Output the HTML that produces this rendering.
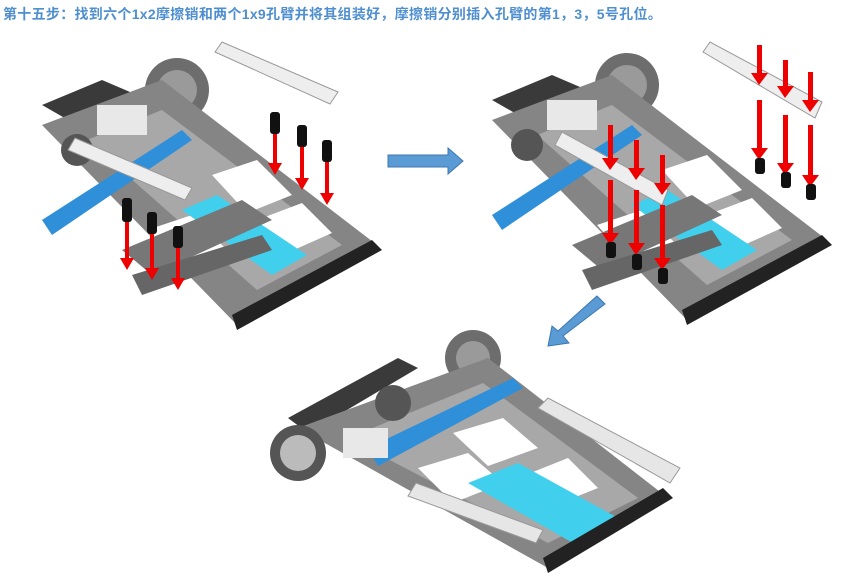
<!DOCTYPE html>
<html><head><meta charset="utf-8"><style>
html,body{margin:0;padding:0;background:#fff;width:864px;height:579px;overflow:hidden}
.t{position:absolute;left:3px;top:4px;font:bold 14px "Liberation Sans","Noto Sans CJK SC",sans-serif;color:#4f8fd0;white-space:nowrap;letter-spacing:0.3px}
svg{position:absolute;left:0;top:0}
</style></head><body>
<div class="t">第十五步：找到六个1x2摩擦销和两个1x9孔臂并将其组装好，摩擦销分别插入孔臂的第1，3，5号孔位。</div>
<svg width="864" height="579" viewBox="0 0 864 579">
<defs>
<g id="model">
  <circle cx="135" cy="55" r="32" fill="#6d6d6d"/>
  <circle cx="135" cy="55" r="20" fill="#9a9a9a"/>
  <polygon points="0,70 60,45 95,60 35,90" fill="#3a3a3a"/>
  <polygon points="0,90 120,45 335,210 195,290" fill="#858585"/>
  <polygon points="45,105 120,75 300,210 215,255" fill="#a8a8a8"/>
  <polygon points="170,140 215,125 250,160 205,178" fill="#fff"/>
  <polygon points="215,185 260,168 290,198 245,218" fill="#fff"/>
  <polygon points="105,195 150,180 185,215 140,235" fill="#fff"/>
  <polygon points="0,185 140,95 150,105 10,200" fill="#2f8fd8"/>
  <polygon points="140,175 175,160 265,220 230,240" fill="#40d0ee"/>
  <circle cx="35" cy="115" r="16" fill="#555"/>
  <rect x="55" y="70" width="50" height="30" fill="#e8e8e8"/>
  <polygon points="80,215 200,165 230,185 110,240" fill="#777"/>
  <polygon points="90,240 220,200 230,215 100,260" fill="#666"/>
  <polygon points="190,280 330,205 340,215 195,295" fill="#222"/>
</g>
</defs>

<!-- top-left model -->
<use href="#model" x="42" y="35"/>
<polygon points="215,52 222,42 338,92 330,104" fill="#eee" stroke="#999"/>
<polygon points="68,150 75,138 192,188 185,200" fill="#eee" stroke="#999"/>
<g fill="#e00">
 <rect x="273" y="130" width="4" height="35"/><polygon points="268,163 282,163 275,175"/>
 <rect x="300" y="140" width="4" height="40"/><polygon points="295,178 309,178 302,190"/>
 <rect x="325" y="155" width="4" height="40"/><polygon points="320,193 334,193 327,205"/>
 <rect x="125" y="220" width="4" height="40"/><polygon points="120,258 134,258 127,270"/>
 <rect x="150" y="225" width="4" height="45"/><polygon points="145,268 159,268 152,280"/>
 <rect x="176" y="240" width="4" height="40"/><polygon points="171,278 185,278 178,290"/>
</g>
<g fill="#111">
 <rect x="270" y="112" width="10" height="22" rx="3"/><rect x="297" y="125" width="10" height="22" rx="3"/><rect x="322" y="140" width="10" height="22" rx="3"/>
 <rect x="122" y="198" width="10" height="24" rx="3"/><rect x="147" y="212" width="10" height="22" rx="3"/><rect x="173" y="226" width="10" height="22" rx="3"/>
</g>

<polygon points="388,155 448,155 448,148 463,161 448,174 448,167 388,167" fill="#5b9bd5" stroke="#3d77b0"/>

<!-- top-right model -->
<use href="#model" x="492" y="30"/>
<polygon points="703,52 710,42 822,102 815,118" fill="#eee" stroke="#999"/>
<polygon points="555,145 562,132 668,190 662,205" fill="#eee" stroke="#999"/>
<g fill="#e00">
 <rect x="757" y="45" width="5" height="30"/><polygon points="751,73 768,73 759,85"/>
 <rect x="783" y="60" width="5" height="28"/><polygon points="777,86 794,86 785,98"/>
 <rect x="808" y="72" width="5" height="30"/><polygon points="802,100 819,100 810,112"/>
 <rect x="757" y="100" width="5" height="50"/><polygon points="751,148 768,148 759,160"/>
 <rect x="783" y="115" width="5" height="50"/><polygon points="777,163 794,163 785,175"/>
 <rect x="808" y="125" width="5" height="52"/><polygon points="802,175 819,175 810,187"/>
 <rect x="608" y="125" width="5" height="35"/><polygon points="602,158 619,158 610,170"/>
 <rect x="634" y="140" width="5" height="30"/><polygon points="628,168 645,168 636,180"/>
 <rect x="660" y="155" width="5" height="30"/><polygon points="654,183 671,183 662,195"/>
 <rect x="608" y="180" width="5" height="55"/><polygon points="602,233 619,233 610,245"/>
 <rect x="634" y="190" width="5" height="55"/><polygon points="628,243 645,243 636,255"/>
 <rect x="660" y="205" width="5" height="55"/><polygon points="654,258 671,258 662,270"/>
</g>
<g fill="#111">
 <rect x="755" y="158" width="10" height="16" rx="3"/><rect x="781" y="172" width="10" height="16" rx="3"/><rect x="806" y="184" width="10" height="16" rx="3"/>
 <rect x="606" y="242" width="10" height="16" rx="3"/><rect x="632" y="254" width="10" height="16" rx="3"/><rect x="658" y="268" width="10" height="16" rx="3"/>
</g>

<polygon points="597,296 605,304 563,336 569,343 548,346 552,326 558,331" fill="#5b9bd5" stroke="#3d77b0"/>

<!-- bottom model -->
<g transform="translate(268,318)">
  <circle cx="205" cy="40" r="28" fill="#6d6d6d"/>
  <circle cx="205" cy="40" r="17" fill="#9a9a9a"/>
  <polygon points="20,100 130,40 150,50 40,115" fill="#3a3a3a"/>
  <polygon points="30,110 220,40 400,180 280,250" fill="#858585"/>
  <polygon points="80,120 215,65 370,180 280,225" fill="#a8a8a8"/>
  <polygon points="185,115 235,100 270,130 220,148" fill="#fff"/>
  <polygon points="250,160 300,140 330,170 280,190" fill="#fff"/>
  <polygon points="150,150 200,135 235,165 185,185" fill="#fff"/>
  <polygon points="100,130 245,60 255,70 110,148" fill="#2f8fd8"/>
  <polygon points="200,165 250,145 350,200 305,225" fill="#40d0ee"/>
  <polygon points="270,90 280,80 412,150 402,165" fill="#e6e6e6" stroke="#999"/>
  <polygon points="140,178 148,165 275,212 268,225" fill="#e6e6e6" stroke="#999"/>
  <circle cx="30" cy="135" r="28" fill="#555"/>
  <circle cx="30" cy="135" r="18" fill="#bbb"/>
  <circle cx="125" cy="85" r="18" fill="#555"/>
  <rect x="75" y="110" width="45" height="30" fill="#e8e8e8"/>
  <polygon points="275,240 395,170 405,180 280,255" fill="#222"/>
</g>
</svg>
</body></html>
